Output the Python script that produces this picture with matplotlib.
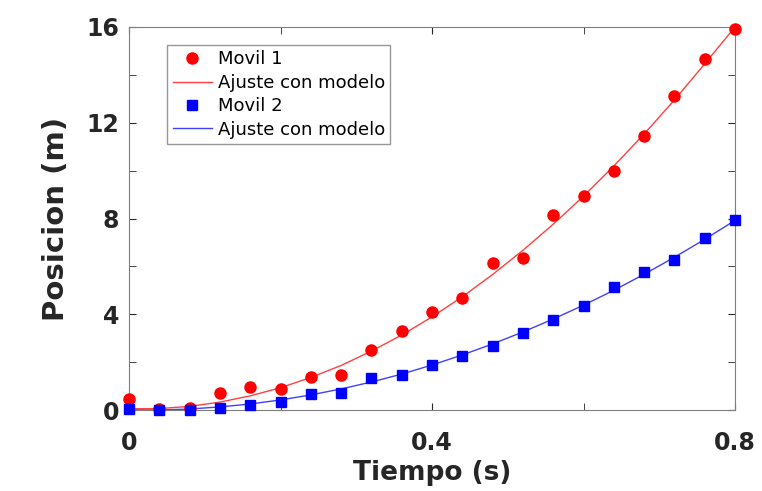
import matplotlib.pyplot as plt
import numpy as np
from matplotlib.ticker import MultipleLocator

# data
t = [0.0, 0.04, 0.08, 0.12, 0.16, 0.20, 0.24, 0.28, 0.32, 0.36, 0.40,
     0.44, 0.48, 0.52, 0.56, 0.60, 0.64, 0.68, 0.72, 0.76, 0.80]
movil1 = [0.45, 0.05, 0.1, 0.73, 0.97, 0.88, 1.37, 1.47, 2.5, 3.3, 4.09,
          4.68, 6.13, 6.36, 8.15, 8.94, 10.0, 11.45, 13.1, 14.66, 15.9]
ajuste1 = [0.05, 0.06, 0.15, 0.33, 0.59, 0.93, 1.36, 1.86, 2.46, 3.13, 3.89,
           4.73, 5.66, 6.67, 7.76, 8.93, 10.19, 11.53, 12.95, 14.46, 16.0]
movil2 = [0.05, 0.02, 0.0, 0.09, 0.2, 0.33, 0.66, 0.72, 1.35, 1.46, 1.88,
          2.27, 2.67, 3.2, 3.76, 4.34, 5.13, 5.78, 6.27, 7.2, 7.94]
ajuste2 = [0.0, 0.0, 0.04, 0.13, 0.25, 0.42, 0.63, 0.88, 1.17, 1.50, 1.88,
           2.30, 2.76, 3.26, 3.80, 4.38, 5.0, 5.67, 6.38, 7.13, 7.92]

fig = plt.figure(figsize=(7.62, 4.91), dpi=100)
ax = fig.add_axes([129/762, 1 - 410/491, 606/762, 383/491])

ax.plot(t, movil1, 'o', color='red', markersize=8, label='Movil 1', clip_on=False, zorder=3)
ax.plot(t, ajuste1, '-', color='#ff4040', linewidth=1, label='Ajuste con modelo')
ax.plot(t, movil2, 's', color='blue', markersize=6.5, label='Movil 2', clip_on=False, zorder=3)
ax.plot(t, ajuste2, '-', color='#4040ff', linewidth=1, label='Ajuste con modelo')

ax.set_xlim(0, 0.8)
ax.set_ylim(0, 16)
ax.set_xticks([0, 0.4, 0.8])
ax.set_xticklabels(['0', '0.4', '0.8'])
ax.set_yticks([0, 4, 8, 12, 16])
ax.xaxis.set_minor_locator(MultipleLocator(0.2))
ax.yaxis.set_minor_locator(MultipleLocator(2))
ax.tick_params(which='both', direction='in', top=True, right=True, colors='#262626')
ax.tick_params(which='major', length=5, labelsize=17)
ax.tick_params(axis='x', pad=15)
ax.tick_params(axis='y', pad=7)
ax.tick_params(which='minor', length=5)
for lab in ax.get_xticklabels() + ax.get_yticklabels():
    lab.set_fontweight('bold')
for s in ax.spines.values():
    s.set_color('#7f7f7f')

ax.set_xlabel('Tiempo (s)', fontsize=19, fontweight='bold', color='#262626', labelpad=4)
ax.set_ylabel('Posicion (m)', fontsize=21, fontweight='bold', color='#262626', labelpad=12)

leg = ax.legend(loc='upper left', bbox_to_anchor=(0.063, 0.953), fontsize=13, frameon=True,
                fancybox=False, edgecolor='#7f7f7f', handlelength=2.2, borderpad=0.3,
                labelspacing=0.3, handletextpad=0.3, borderaxespad=0)
leg.get_frame().set_linewidth(1)

fig.savefig('out.png', dpi=100)
